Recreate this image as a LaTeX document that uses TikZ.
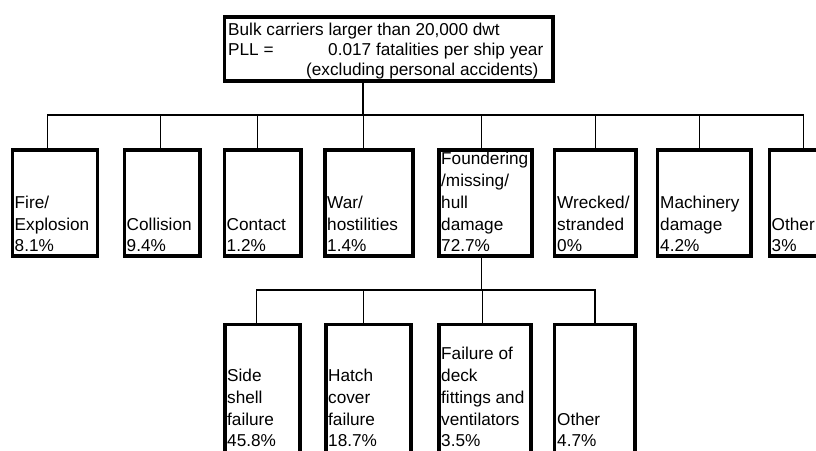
\documentclass[tikz,border=0pt]{standalone}
\usepackage{fontspec}
\setmainfont{Liberation Sans}
\begin{document}
\begin{tikzpicture}[x=1pt,y=-1pt,
  bx/.style={draw, line width=3.6pt, inner sep=0pt, fill=white},
  conn/.style={line width=1.4pt},
  lbl/.style={anchor=base west, inner sep=0pt, font=\fontsize{17.2}{21.7}\selectfont},
  tl/.style={anchor=base west, inner sep=0pt, font=\fontsize{17.2}{20}\selectfont}]
\useasboundingbox (0,0) rectangle (816,450);
\begin{scope}
\clip (0,0) rectangle (816,450);
% boxes
\node[bx, minimum width=328.7pt, minimum height=64.4pt] (top) at (388.85,49) {};
\node[bx, minimum width=85pt,   minimum height=106.4pt] (b1) at (55,203) {};
\node[bx, minimum width=75.4pt, minimum height=106.4pt] (b2) at (162.2,203) {};
\node[bx, minimum width=76.4pt, minimum height=106.4pt] (b3) at (262.7,203) {};
\node[bx, minimum width=88.4pt, minimum height=106.4pt] (b4) at (369,203) {};
\node[bx, minimum width=93.4pt, minimum height=106.4pt] (b5) at (485.5,203) {};
\node[bx, minimum width=81.7pt, minimum height=106.4pt] (b6) at (595.35,203) {};
\node[bx, minimum width=93.4pt, minimum height=106.4pt] (b7) at (704.2,203) {};
\node[bx, minimum width=86.4pt, minimum height=106.4pt] (b8) at (812.7,203) {};
\node[bx, minimum width=75.1pt, minimum height=150pt] (c1) at (262.35,399.5) {};
\node[bx, minimum width=85.4pt, minimum height=150pt] (c2) at (368.5,399.5) {};
\node[bx, minimum width=92.4pt, minimum height=150pt] (c3) at (485,399.5) {};
\node[bx, minimum width=80.7pt, minimum height=150pt] (c4) at (594.85,399.5) {};
% connectors
\coordinate (bus) at (363,115);
\draw[conn] ([xshift=-25.85pt]top.south) -- (bus);
\draw[conn] ([xshift=-7.3pt]b1.north) |- (bus);
\draw[conn] ([xshift=-1.5pt]b2.north) |- (bus);
\draw[conn] ([xshift=-5.4pt]b3.north) |- (bus);
\draw[conn] ([xshift=-5.7pt]b4.north) |- (bus);
\draw[conn] ([xshift=-3.8pt]b5.north) |- (bus);
\draw[conn] (b6.north) |- (bus);
\draw[conn] ([xshift=-4.9pt]b7.north) |- (bus);
\draw[conn] ([xshift=-9.4pt]b8.north) |- (bus);
\coordinate (bus2) at (481.7,290);
\draw[conn] ([xshift=-3.8pt]b5.south) -- (bus2);
\draw[conn] ([xshift=-5.65pt]c1.north) |- (bus2);
\draw[conn] ([xshift=-5.2pt]c2.north) |- (bus2);
\draw[conn] ([xshift=-2.3pt]c3.north) |- (bus2);
\draw[conn] (c4.north) |- (bus2);
% top text
\node[tl] (t1) at (228,35) {Bulk carriers larger than 20,000 dwt};
\node[tl] (t2) at (228,55) {PLL =};
\node[tl] (t3) at (328,55) {0.017 fatalities per ship year};
\node[tl] (t4) at (306,75) {(excluding personal accidents)};
% box labels
\node[lbl] (l1) at (14.5,251.7) {\parbox[b]{90pt}{\raggedright Fire/\\Explosion\\8.1\%}};
\node[lbl] (l2) at (126.5,251.7) {\parbox[b]{90pt}{\raggedright Collision\\9.4\%}};
\node[lbl] (l3) at (226.5,251.7) {\parbox[b]{90pt}{\raggedright Contact\\1.2\%}};
\node[lbl] (l4) at (327,251.7) {\parbox[b]{90pt}{\raggedright War/\\hostilities\\1.4\%}};
\node[lbl] (l5) at (441,251.7) {\parbox[b]{90pt}{\raggedright Foundering\\/missing/\\hull\\damage\\72.7\%}};
\node[lbl] (l6) at (557,251.7) {\parbox[b]{90pt}{\raggedright Wrecked/\\stranded\\0\%}};
\node[lbl] (l7) at (660,251.7) {\parbox[b]{90pt}{\raggedright Machinery\\damage\\4.2\%}};
\node[lbl] (l8) at (771.5,251.7) {\parbox[b]{90pt}{\raggedright Other\\3\%}};
\node[lbl] (m1) at (227,446.7) {\parbox[b]{90pt}{\raggedright Side\\shell\\failure\\45.8\%}};
\node[lbl] (m2) at (328,446.7) {\parbox[b]{90pt}{\raggedright Hatch\\cover\\failure\\18.7\%}};
\node[lbl] (m3) at (441,446.7) {\parbox[b]{100pt}{\raggedright Failure of\\deck\\fittings and\\ventilators\\3.5\%}};
\node[lbl] (m4) at (557,446.7) {\parbox[b]{90pt}{\raggedright Other\\4.7\%}};
\end{scope}
\end{tikzpicture}
\end{document}
